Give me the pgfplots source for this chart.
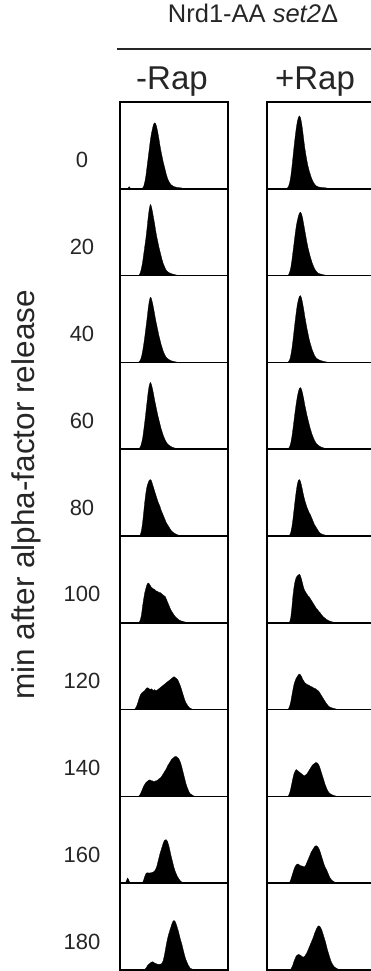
\documentclass[border=0pt]{standalone}
\usepackage{fontspec}
\setmainfont{Liberation Sans}
\usepackage{pgfplots}
\pgfplotsset{compat=1.18}
\pgfplotsset{histo/.style={width=108pt,height=86.8pt,scale only axis,
  xmin=0,xmax=100,ymin=0,ymax=100,ticks=none,
  axis line style={line width=1.6pt}, anchor=south west}}
\newcommand{\panel}[3]{%
  \begin{axis}[histo,at={(#1pt,#2pt)}]
  \addplot[fill=black,draw=black,line width=0.3pt] coordinates {#3} \closedcycle;
  \end{axis}}
\begin{document}
\begin{tikzpicture}[x=1pt,y=1pt]
% left column  (bottom y = 869 - 86.8*(i+1))
\panel{120}{782.2}{(0,0)(7,0)(8.5,2.5)(10,0)(20,0)(21,1)(22,3)(23,8)(24,15)(25,25)(26,35)(27,45)(28,55)(29,63)(30,69)(31,74)(32,76)(33,75)(34,71)(35,65)(36,58)(37,50)(38,43)(39,37)(40,31)(41,26)(42,21)(43,16)(44,12)(45,9)(46,7)(47,5)(48,4)(50,2.5)(53,1.5)(57,1)(60,0)(100,0)}
\panel{120}{695.4}{(0,0)(17,0)(18,1)(19,4)(20,9)(21,16)(22,25)(23,34)(24,43)(25,54)(26,66)(27,76)(28,82)(29,80)(30,74)(31,67)(32,60)(33,52)(34,45)(35,39)(36,33)(37,28)(38,23)(39,18)(40,14)(41,11)(42,8)(43,6)(44,4.5)(46,3)(48,2)(51,1)(55,0)(100,0)}
\panel{120}{608.6}{(0,0)(17,0)(18,1)(19,3)(20,7)(21,13)(22,21)(23,30)(24,40)(25,50)(26,61)(27,70)(28,75)(29,74)(30,69)(31,63)(32,56)(33,49)(34,43)(35,37)(36,31)(37,26)(38,21)(39,17)(40,13)(41,10)(42,7.5)(43,5.5)(45,3.5)(47,2)(50,1)(54,0)(100,0)}
\panel{120}{521.8}{(0,0)(17,0)(18,1)(19,3)(20,7)(21,13)(22,22)(23,32)(24,43)(25,54)(26,65)(27,73)(28,77)(29,75)(30,70)(31,64)(32,57)(33,51)(34,45)(35,39)(36,34)(37,29)(38,24)(39,20)(40,16)(41,13)(42,10)(43,8)(44,6)(46,4)(48,2.5)(51,1.2)(55,0)(100,0)}
\panel{120}{435}{(0,0)(18,0)(19,2)(20,7)(21,16)(22,28)(23,40)(24,50)(25,57)(26,61)(27,64)(28,65)(29,64)(30,60)(31,56)(32,52)(33,48)(34,44)(35,40)(36,37)(37,34)(38,30)(39,27)(40,24)(41,21)(42,18)(43,15)(44,13)(45,11)(46,9)(47,7)(48,5.5)(50,3.5)(52,2)(54,1)(57,0)(100,0)}
\panel{120}{348.2}{(0,0)(17,0)(18,1)(19,4)(20,10)(21,20)(22,28)(23,35)(24,40)(25,44)(26,46)(27,45)(28,43)(29,41)(30,40)(31,39)(32,38.5)(33,37)(34,36.5)(35,36)(36,35)(37,35)(38,34)(39,33)(40,32)(41,31)(42,30)(43,27)(44,24)(45,21)(46,18)(47,15)(48,13)(49,11)(50,9)(51,7.5)(52,6)(53,5)(55,3)(57,2)(60,1)(63,0)(100,0)}
\panel{120}{261.4}{(0,0)(13,0)(14,1)(15,3)(16,6)(17,10)(18,14)(19,17)(20,19)(21,20)(22,21)(23,22)(24,24)(25,25)(26,25)(27,24)(28,23)(29,24)(30,23)(31,22)(32,23)(33,22)(34,22)(35,23)(36,24)(37,25)(38,26)(39,27)(40,28)(41,29)(42,30)(43,31)(44,32)(45,33)(46,34)(47,35)(48,36)(49,37)(50,38)(51,37)(52,36)(53,35)(54,33)(55,30)(56,27)(57,23)(58,19)(59,15)(60,11)(61,8)(62,6)(63,4)(64,2.5)(66,1)(68,0)(100,0)}
\panel{120}{174.6}{(0,0)(17,0)(18,1)(19,3)(20,6)(21,9)(22,12)(23,14)(24,16)(25,17)(26,18)(27,19)(28,19)(29,18)(30,18)(31,17)(32,17)(33,18)(34,18)(35,19)(36,20)(37,21)(38,22)(39,24)(40,26)(41,28)(42,30)(43,32)(44,35)(45,37)(46,39)(47,41)(48,43)(49,44)(50,45)(51,46)(52,46)(53,45)(54,44)(55,42)(56,39)(57,35)(58,30)(59,25)(60,20)(61,15)(62,11)(63,8)(64,5)(65,3)(67,1.5)(69,0)(100,0)}
\panel{120}{87.8}{(0,0)(5,0)(6,3)(7,6)(8,4)(9,1)(10,0)(20,0)(21,1)(22,4)(23,8)(24,11)(25,12)(26,12)(27,11.5)(28,12)(29,12)(30,12.5)(31,13)(32,14)(33,16)(34,19)(35,24)(36,29)(37,34)(38,38)(39,42)(40,46)(41,49)(42,50)(43,50)(44,48)(45,44)(46,39)(47,33)(48,28)(49,23)(50,18)(51,14)(52,11)(53,8)(54,6)(55,4)(56,2.5)(57,1.5)(59,0.5)(62,0)(100,0)}
\panel{120}{1}{(0,0)(8,0)(10,1)(14,0.5)(22,0.5)(23,1)(24,2)(25,4)(26,6)(27,7)(28,8)(29,9)(30,9.5)(31,9)(32,8)(33,7.5)(34,7)(35,6.5)(36,6.5)(37,6.5)(38,7)(39,8)(40,11)(41,16)(42,23)(43,30)(44,36)(45,41)(46,45)(47,49)(48,53)(49,56)(50,57)(51,56)(52,53)(53,49)(54,45)(55,40)(56,35)(57,31)(58,26)(59,21)(60,16)(61,12)(62,9)(63,6)(64,4)(65,2)(67,1)(70,0)(100,0)}
% right column
\panel{267}{782.2}{(0,0)(18,0)(19,1)(20,3)(21,7)(22,14)(23,24)(24,36)(25,48)(26,59)(27,69)(28,77)(29,82)(30,84)(31,82)(32,76)(33,67)(34,57)(35,47)(36,39)(37,32)(38,26)(39,21)(40,17)(41,13)(42,10)(43,7.5)(44,5.5)(45,4)(46,3)(48,2)(51,1.5)(55,1)(58,0)(100,0)}
\panel{267}{695.4}{(0,0)(19,0)(20,1)(21,4)(22,9)(23,17)(24,27)(25,37)(26,47)(27,56)(28,63)(29,68)(30,72)(31,73)(32,71)(33,66)(34,59)(35,52)(36,45)(37,38)(38,32)(39,27)(40,22)(41,18)(42,14)(43,11)(44,8)(45,6)(46,4.5)(47,3)(49,2)(52,1)(56,0)(100,0)}
\panel{267}{608.6}{(0,0)(19,0)(20,1)(21,3)(22,8)(23,15)(24,25)(25,36)(26,47)(27,57)(28,66)(29,72)(30,76)(31,77)(32,74)(33,68)(34,61)(35,53)(36,46)(37,39)(38,33)(39,27)(40,22)(41,18)(42,14)(43,11)(44,8)(45,6)(46,4.5)(48,3)(50,2)(53,1)(57,0)(100,0)}
\panel{267}{521.8}{(0,0)(19,0)(20,1)(21,3)(22,7)(23,14)(24,23)(25,33)(26,43)(27,52)(28,60)(29,66)(30,70)(31,71)(32,69)(33,64)(34,58)(35,51)(36,45)(37,39)(38,34)(39,29)(40,24)(41,20)(42,16)(43,13)(44,10)(45,8)(46,6)(48,4)(50,2.5)(53,1.2)(57,0)(100,0)}
\panel{267}{435}{(0,0)(20,0)(21,1)(22,4)(23,10)(24,19)(25,30)(26,41)(27,51)(28,59)(29,64)(30,65)(31,63)(32,58)(33,52)(34,46)(35,41)(36,37)(37,33)(38,30)(39,27)(40,25)(41,22)(42,19)(43,16)(44,13)(45,11)(46,9)(47,7)(48,5)(49,3.5)(51,2)(54,1)(58,0)(100,0)}
\panel{267}{348.2}{(0,0)(20,0)(21,1)(22,6)(23,17)(24,31)(25,41)(26,48)(27,52)(28,54)(29,55)(30,56)(31,54)(32,50)(33,45)(34,40)(35,37)(36,35)(37,33)(38,31)(39,30)(40,28)(41,26)(42,24)(43,22)(44,20)(45,18)(46,16)(47,15)(48,13)(49,12)(50,10)(51,8.5)(52,7)(53,6)(54,5)(55,4)(57,2.5)(59,1.5)(62,0.5)(65,0)(100,0)}
\panel{267}{261.4}{(0,0)(19,0)(20,1)(21,4)(22,9)(23,16)(24,23)(25,29)(26,33)(27,36)(28,38)(29,40)(30,41)(31,40)(32,38)(33,35)(34,33)(35,31)(36,30)(37,29)(38,28.5)(39,28)(40,27)(41,26.5)(42,26)(43,25)(44,24.5)(45,24)(46,23)(47,22)(48,21)(49,19)(50,17)(51,15)(52,13)(53,11)(54,9)(55,7)(56,5.5)(57,4)(58,3)(60,2)(63,1)(66,0)(100,0)}
\panel{267}{174.6}{(0,0)(19,0)(20,1)(21,4)(22,9)(23,15)(24,21)(25,26)(26,29)(27,31)(28,30)(29,29)(30,28)(31,27)(32,26)(33,25)(34,24)(35,24)(36,25)(37,26)(38,28)(39,30)(40,32)(41,34)(42,36)(43,37)(44,38)(45,39)(46,39)(47,38)(48,36)(49,33)(50,29)(51,25)(52,21)(53,17)(54,13)(55,10)(56,7)(57,5)(58,3.5)(60,2)(62,1)(65,0)(100,0)}
\panel{267}{87.8}{(0,0)(20,0)(21,1)(22,4)(23,8)(24,12)(25,16)(26,19)(27,21)(28,22)(29,22)(30,21)(31,20)(32,20)(33,19.5)(34,19)(35,19)(36,21)(37,24)(38,27)(39,30)(40,33)(41,36)(42,38)(43,40)(44,42)(45,43)(46,43)(47,42)(48,40)(49,37)(50,33)(51,29)(52,25)(53,21)(54,18)(55,16)(56,13)(57,10)(58,7)(59,5)(60,3.5)(61,2.5)(63,1)(66,0)(100,0)}
\panel{267}{1}{(0,0)(21,0)(22,1)(23,3)(24,6)(25,10)(26,13)(27,16)(28,17)(29,18)(30,17.5)(31,17)(32,16)(33,15)(34,15)(35,16)(36,18)(37,20)(38,23)(39,26)(40,29)(41,32)(42,35)(43,38)(44,42)(45,45)(46,48)(47,50)(48,51)(49,50)(50,48)(51,45)(52,41)(53,37)(54,33)(55,28)(56,23)(57,19)(58,15)(59,11)(60,8)(61,6)(62,4)(63,3)(65,1.5)(67,0.5)(70,0)(100,0)}
% texts
\node[anchor=base,font=\fontsize{25.5}{30}\selectfont,text=black!85] at (253pt,948pt) {Nrd1-AA \textit{set2}Δ};
\draw[line width=1.6pt,black!85] (117pt,922pt) -- (380pt,922pt);
\node[anchor=base,font=\fontsize{33}{38}\selectfont,text=black!85] at (172pt,881pt) {-Rap};
\node[anchor=base,font=\fontsize{33}{38}\selectfont,text=black!85] at (315pt,881pt) {+Rap};
\node[rotate=90,anchor=base,font=\fontsize{31.5}{36}\selectfont,text=black!85] at (35pt,476pt) {min after alpha-factor release};
\begin{scope}[every node/.style={anchor=base,font=\fontsize{22}{26}\selectfont,text=black!85}]
\node at (82pt,803pt) {0};
\node at (82pt,716.2pt) {20};
\node at (82pt,629.4pt) {40};
\node at (82pt,542.6pt) {60};
\node at (82pt,455.8pt) {80};
\node at (82pt,369pt) {100};
\node at (82pt,282.2pt) {120};
\node at (82pt,195.4pt) {140};
\node at (82pt,108.6pt) {160};
\node at (82pt,21.8pt) {180};
\end{scope}
\pgfresetboundingbox
\useasboundingbox (0pt,0pt) rectangle (371pt,971pt);
\end{tikzpicture}
\end{document}
